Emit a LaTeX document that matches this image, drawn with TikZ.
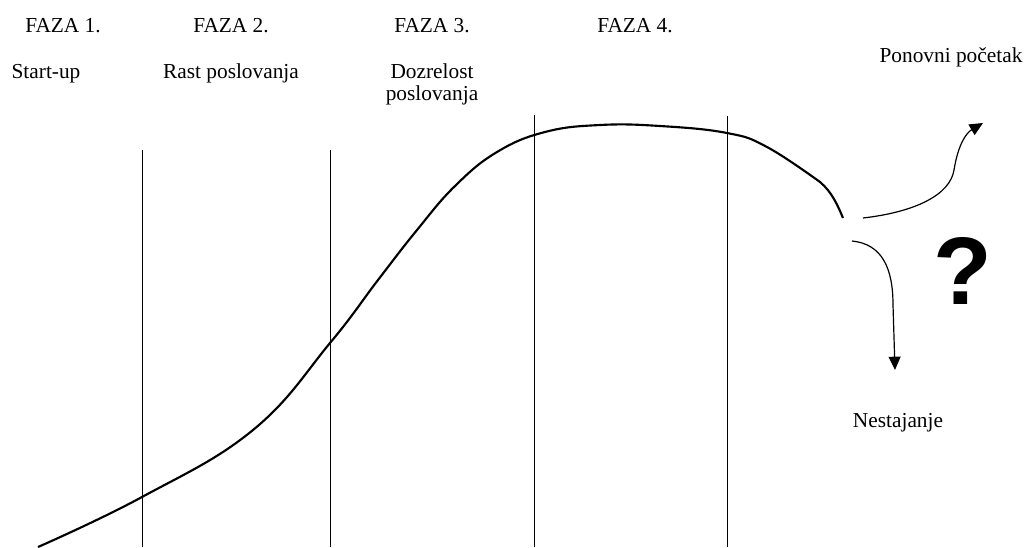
\documentclass[tikz,border=0pt]{standalone}
\usepackage{fontspec}
\setmainfont{Liberation Serif}
\newfontfamily\qfont{Liberation Sans}
\usetikzlibrary{arrows.meta, positioning}

\begin{document}
\begin{tikzpicture}[
    x=0.75pt, y=-0.75pt,
    label/.style={font=\fontsize{16}{16.5}\selectfont, align=center, inner sep=0pt, anchor=base},
    divider/.style={line width=0.7pt},
    curve/.style={line width=1.6pt},
    arrow/.style={line width=0.9pt, -{Triangle[length=10pt, width=9pt]}}
]
\useasboundingbox (0,0) rectangle (1024,547);

% Phase labels
\node[label] (faza1) at (63,32) {FAZA 1.};
\node[label] (faza2) at (231,32) {FAZA 2.};
\node[label] (faza3) at (432,32) {FAZA 3.};
\node[label] (faza4) at (635,32) {FAZA 4.};

\node[label] (startup) at (46,78) {Start-up};
\node[label] (rast) at (231,78) {Rast poslovanja};
\node[label] (dozrelost) at (432,100) {Dozrelost\\poslovanja};

\node[label] (ponovni) at (951,62) {Ponovni početak};
\node[label] (nestajanje) at (898,427) {Nestajanje};
\node[font=\qfont\bfseries\fontsize{72}{72}\selectfont, inner sep=0pt] (upitnik) at (963,271) {?};

% Dividers
\draw[divider] (142,150) -- (142,547);
\draw[divider] (330,150) -- (330,547);
\draw[divider] (534,115) -- (534,547);
\draw[divider] (727,116) -- (727,547);

% Life cycle curve
\draw[curve] plot[smooth, tension=0.7] coordinates {
    (38,547) (142,497) (253,430) (330,343) (378,280) (417,230) (455,186)
    (497,152) (545,132) (600,125) (660,126) (727,133) (767,147) (820,182)}
    .. controls (832,192) and (838,206) .. (843,218);

% Arrows
\coordinate (upstart) at (863,218);
\coordinate (uptip) at (983,123);
\coordinate (downstart) at (852,241);
\coordinate (downtip) at (895,370);
\draw[arrow] (upstart) .. controls (915,212) and (950,195) .. (954,170)
    .. controls (958,145) and (966,133) .. (uptip);
\draw[arrow] (downstart) .. controls (882,244) and (893,268) .. (893,305) -- (downtip);

\end{tikzpicture}
\end{document}
